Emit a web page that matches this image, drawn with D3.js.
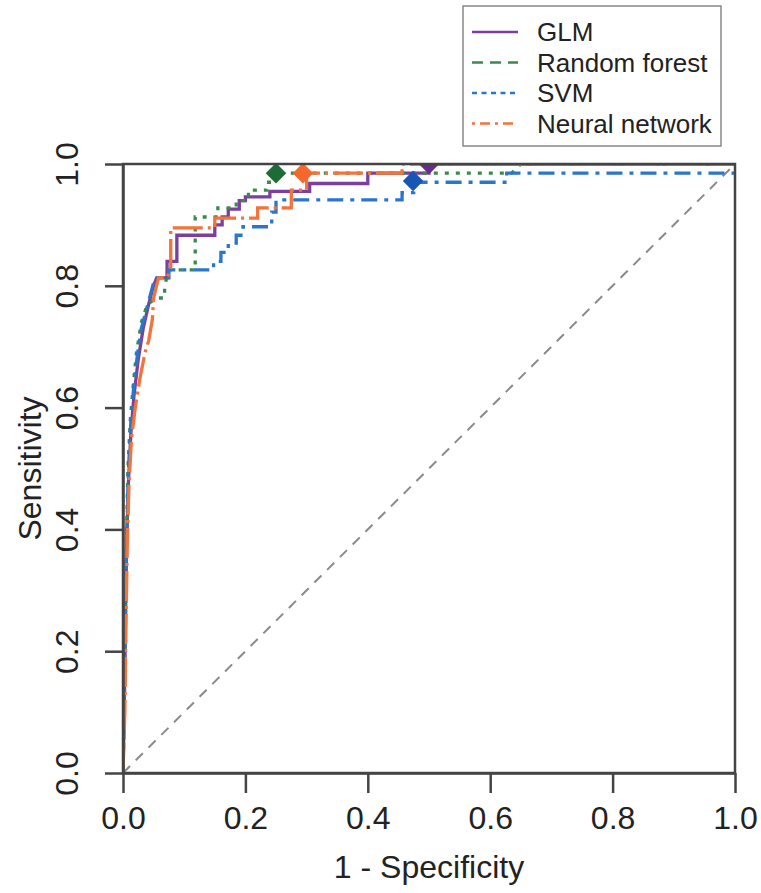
<!DOCTYPE html>
<html>
<head>
<meta charset="utf-8">
<script src="https://cdn.jsdelivr.net/npm/d3@7/dist/d3.min.js"></script>
<style>
  body { margin: 0; background: #fff; }
  svg { display: block; }
  text { font-family: "Liberation Sans", Arial, Helvetica, sans-serif; fill: #222; }
</style>
</head>
<body>
<div id="chart"></div>
<script>
// ROC curves, points are [1 - specificity, sensitivity]
var seriesNames = ["GLM", "Random forest", "SVM", "Neural network"];

var glmRoc = [[0,0],[0.002,0.1],[0.004,0.25],[0.006,0.38],[0.009,0.48],[0.013,0.56],[0.018,0.62],
  [0.025,0.68],[0.033,0.73],[0.042,0.77],[0.05,0.8],[0.055,0.813],[0.072,0.813],[0.072,0.84],
  [0.088,0.84],[0.088,0.883],[0.15,0.883],[0.15,0.9],[0.162,0.9],[0.162,0.913],[0.172,0.913],
  [0.172,0.926],[0.19,0.926],[0.19,0.94],[0.2,0.94],[0.2,0.946],[0.24,0.946],[0.24,0.955],
  [0.305,0.955],[0.305,0.968],[0.4,0.968],[0.4,0.985],[0.5,0.985],[0.5,1],[1,1]];

var rfRoc = [[0,0],[0.002,0.12],[0.004,0.28],[0.006,0.4],[0.008,0.5],[0.012,0.58],[0.017,0.64],
  [0.022,0.69],[0.03,0.74],[0.04,0.77],[0.055,0.78],[0.068,0.78],[0.068,0.8],[0.075,0.826],
  [0.118,0.826],[0.118,0.913],[0.155,0.913],[0.155,0.928],[0.185,0.928],[0.185,0.94],
  [0.205,0.94],[0.205,0.957],[0.235,0.957],[0.235,0.97],[0.25,0.97],[0.25,0.985],
  [0.635,0.985],[0.65,1],[1,1]];

var svmRoc = [[0,0],[0.002,0.1],[0.004,0.25],[0.006,0.38],[0.009,0.5],[0.013,0.58],[0.018,0.64],
  [0.024,0.69],[0.03,0.73],[0.038,0.76],[0.046,0.79],[0.052,0.813],[0.075,0.813],[0.075,0.826],
  [0.148,0.826],[0.148,0.84],[0.16,0.84],[0.16,0.855],[0.172,0.855],[0.172,0.87],[0.185,0.87],
  [0.185,0.883],[0.196,0.883],[0.196,0.897],[0.243,0.897],[0.243,0.921],[0.25,0.921],
  [0.25,0.941],[0.456,0.941],[0.456,0.953],[0.475,0.953],[0.475,0.97],[0.627,0.97],
  [0.627,0.985],[1,0.985],[1,1]];

var nnRoc = [[0,0],[0.003,0.1],[0.005,0.25],[0.007,0.38],[0.01,0.48],[0.014,0.55],[0.02,0.6],
  [0.028,0.65],[0.036,0.69],[0.042,0.71],[0.048,0.745],[0.05,0.78],[0.058,0.813],[0.072,0.813],
  [0.078,0.83],[0.078,0.895],[0.15,0.895],[0.15,0.911],[0.22,0.911],[0.22,0.928],
  [0.275,0.928],[0.275,0.957],[0.3,0.957],[0.3,0.985],[0.456,0.985],[0.456,1],[1,1]];

// best threshold for each model
var bestPoints = [[0.5,1.0],[0.25,0.985],[0.474,0.972],[0.294,0.985]];

var tickValues = [0, 0.2, 0.4, 0.6, 0.8, 1.0];

// look of each series (plot lines look different from the legend keys in the original)
var styles = [
  {color: "#7b3fa0", marker: "#6a2b8e", dash: null,          keyDash: null},
  {color: "#3a8a4c", marker: "#1d6b35", dash: "4,7",         keyDash: "11,7"},
  {color: "#2a76cc", marker: "#1657b5", dash: "16,7,4,7",    keyDash: "5,4.5"},
  {color: "#f4733a", marker: "#f4682c", dash: "30,5,3,5",    keyDash: "3,5,10,5"}
];
var rocData = [glmRoc, rfRoc, svmRoc, nnRoc];

var W = 761, H = 893;
var plot = {left: 123, right: 735, top: 164, bottom: 773};
var axisFont = 32;

var svg = d3.select("#chart").append("svg")
    .attr("width", W)
    .attr("height", H);

var x = d3.scaleLinear().domain([0, 1]).range([plot.left, plot.right]);
var y = d3.scaleLinear().domain([0, 1]).range([plot.bottom, plot.top]);

svg.append("clipPath").attr("id", "plotClip")
  .append("rect")
    .attr("x", plot.left).attr("y", plot.top)
    .attr("width", plot.right - plot.left)
    .attr("height", plot.bottom - plot.top);

var inner = svg.append("g").attr("clip-path", "url(#plotClip)");

// chance line
inner.append("line")
    .attr("x1", x(0)).attr("y1", y(0))
    .attr("x2", x(1)).attr("y2", y(1))
    .attr("stroke", "#8a8a8a")
    .attr("stroke-width", 2)
    .attr("stroke-dasharray", "10,8");

var line = d3.line()
    .x(function(d) { return x(d[0]); })
    .y(function(d) { return y(d[1]); });

rocData.forEach(function(pts, i) {
    inner.append("path")
        .datum(pts)
        .attr("d", line)
        .attr("fill", "none")
        .attr("stroke", styles[i].color)
        .attr("stroke-width", 3.3)
        .attr("stroke-dasharray", styles[i].dash);
});

var diamond = d3.symbol().type(d3.symbolSquare).size(210);
inner.selectAll(".best")
    .data(bestPoints)
  .enter().append("path")
    .attr("class", "best")
    .attr("d", diamond)
    .attr("transform", function(d) { return "translate(" + x(d[0]) + "," + y(d[1]) + ") rotate(45)"; })
    .attr("fill", function(d, i) { return styles[i].marker; });

// box
svg.append("rect")
    .attr("x", plot.left).attr("y", plot.top)
    .attr("width", plot.right - plot.left)
    .attr("height", plot.bottom - plot.top)
    .attr("fill", "none")
    .attr("stroke", "#444")
    .attr("stroke-width", 2.5);

// axes
var fmt = d3.format(".1f");
var xAxis = d3.axisBottom(x).tickValues(tickValues).tickFormat(fmt).tickSize(20).tickSizeOuter(0).tickPadding(13);
var yAxis = d3.axisLeft(y).tickValues(tickValues).tickFormat(fmt).tickSize(18).tickSizeOuter(0);

var gx = svg.append("g")
    .attr("transform", "translate(0," + plot.bottom + ")")
    .call(xAxis);
var gy = svg.append("g")
    .attr("transform", "translate(" + plot.left + ",0)")
    .call(yAxis);

[gx, gy].forEach(function(g) {
    g.select(".domain").attr("stroke", "#444").attr("stroke-width", 2.5);
    g.selectAll(".tick line").attr("stroke", "#444").attr("stroke-width", 2.5);
    g.selectAll(".tick text")
        .attr("font-family", "Liberation Sans, Arial, sans-serif")
        .attr("font-size", axisFont)
        .attr("fill", "#222");
});

// y tick labels are parallel to the axis, as in R
gy.selectAll(".tick text")
    .attr("x", null).attr("dy", null)
    .attr("text-anchor", "middle")
    .attr("transform", "translate(-45,0) rotate(-90)");

svg.append("text")
    .attr("x", x(0.5))
    .attr("y", 878)
    .attr("text-anchor", "middle")
    .attr("font-size", axisFont)
    .text("1 - Specificity");

svg.append("text")
    .attr("transform", "translate(41," + y(0.5) + ") rotate(-90)")
    .attr("text-anchor", "middle")
    .attr("font-size", axisFont)
    .text("Sensitivity");

// legend
var legend = svg.append("g").attr("transform", "translate(463,6)");
legend.append("rect")
    .attr("width", 258).attr("height", 140)
    .attr("fill", "#fff")
    .attr("stroke", "#888")
    .attr("stroke-width", 1.5);

var rows = legend.selectAll(".row")
    .data(seriesNames)
  .enter().append("g")
    .attr("transform", function(d, i) { return "translate(0," + (26 + i * 30.5) + ")"; });

rows.append("line")
    .attr("x1", 9).attr("x2", 55)
    .attr("stroke", function(d, i) { return styles[i].color; })
    .attr("stroke-width", 2.5)
    .attr("stroke-dasharray", function(d, i) { return styles[i].keyDash; });

rows.append("text")
    .attr("x", 74)
    .attr("dy", "0.36em")
    .attr("font-size", 26)
    .text(function(d) { return d; });
</script>
</body>
</html>
